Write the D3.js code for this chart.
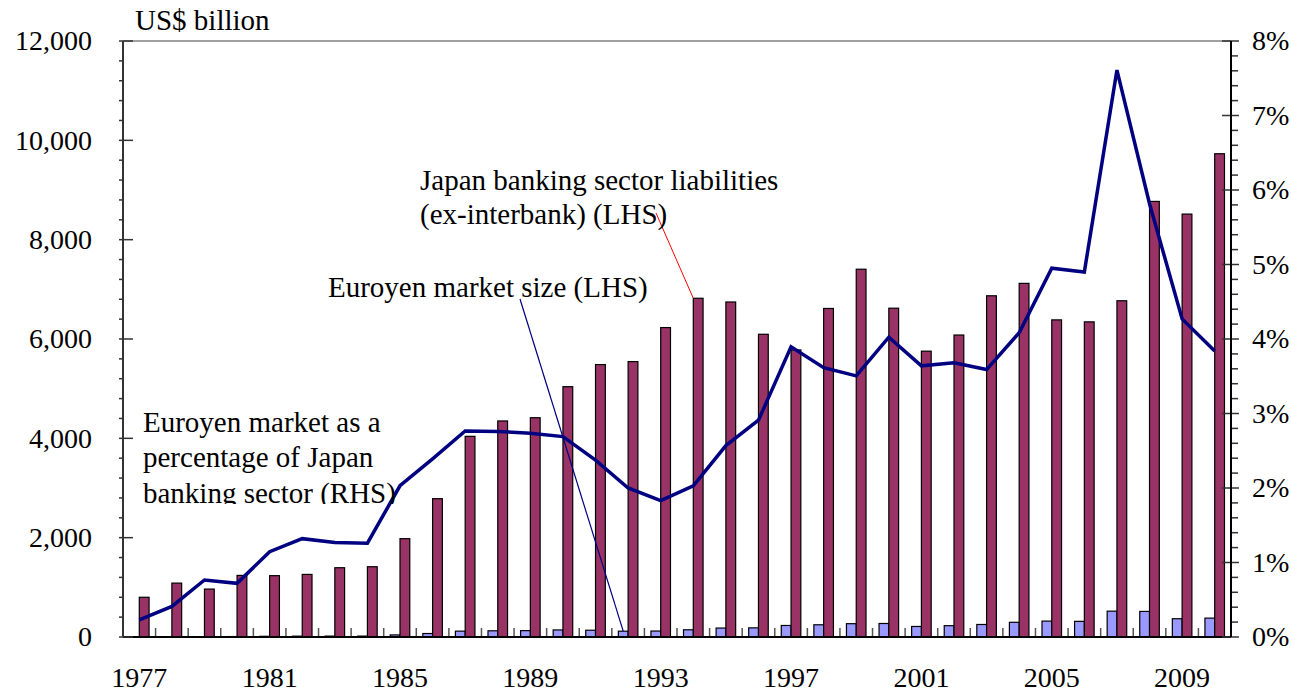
<!DOCTYPE html>
<html>
<head>
<meta charset="utf-8">
<script src="https://cdn.jsdelivr.net/npm/d3@7"></script>
<style>
  body { margin: 0; background: #fff; }
  svg { display: block; }
</style>
</head>
<body>
<svg id="chart"></svg>
<script>
// years on the x axis
let years = [1977, 1978, 1979, 1980, 1981, 1982, 1983, 1984, 1985, 1986, 1987, 1988,
  1989, 1990, 1991, 1992, 1993, 1994, 1995, 1996, 1997, 1998, 1999, 2000,
  2001, 2002, 2003, 2004, 2005, 2006, 2007, 2008, 2009, 2010];

// Japan banking sector liabilities (ex-interbank), US$ billion (LHS)
let liabilities = [800, 1085, 965, 1240, 1235, 1260, 1395, 1415, 1980, 2785, 4040, 4350,
  4415, 5040, 5485, 5545, 6230, 6820, 6745, 6095, 5780, 6615, 7405, 6620,
  5755, 6080, 6870, 7120, 6385, 6345, 6770, 8770, 8515, 9730];

// Euroyen market size, US$ billion (LHS)
let euroyen = [2, 4, 7, 9, 14, 17, 18, 18, 42, 70, 118, 125,
  128, 142, 136, 117, 120, 145, 180, 184, 232, 246, 268, 272,
  212, 228, 252, 296, 320, 315, 520, 515, 368, 380];

// Euroyen market as % of Japan banking sector (RHS)
let share = [0.23, 0.41, 0.765, 0.72, 1.145, 1.32, 1.27, 1.26, 2.03, 2.39, 2.765, 2.76,
  2.735, 2.69, 2.375, 2.0, 1.83, 2.03, 2.57, 2.91, 3.895, 3.615, 3.505, 4.025,
  3.64, 3.68, 3.59, 4.085, 4.95, 4.90, 7.61, 5.815, 4.27, 3.84];

// tick labels
let yearLabels = [1977, 1981, 1985, 1989, 1993, 1997, 2001, 2005, 2009];
let leftTicks = [0, 2000, 4000, 6000, 8000, 10000, 12000];
let rightTicks = [0, 1, 2, 3, 4, 5, 6, 7, 8];

let width = 1291, height = 693;
let plotLeft = 123, plotRight = 1231, plotTop = 41, plotBottom = 637;
let font = "Liberation Serif";

let svg = d3.select("#chart").attr("width", width).attr("height", height)
  .style("font-family", font);

let x = d3.scaleBand().domain(years).range([plotLeft, plotRight]).padding(0);
let yL = d3.scaleLinear().domain([0, 12000]).range([plotBottom, plotTop]);
let yR = d3.scaleLinear().domain([0, 8]).range([plotBottom, plotTop]);
let bw = x.bandwidth() * 0.3;
let cx = d => x(d) + x.bandwidth() / 2;

// общий стиль для подписей
let styleText = (sel, size = 28) => sel
  .style("font-family", font)
  .style("font-size", size + "px")
  .attr("fill", "#000");

// рамка сверху
svg.append("line")
  .attr("x1", plotLeft).attr("x2", plotRight).attr("y1", plotTop).attr("y2", plotTop)
  .attr("stroke", "#a0a0a0").attr("stroke-width", 2);

// bars: euroyen (left of centre), liabilities (right of centre)
svg.append("g").selectAll("rect")
  .data(years)
  .join("rect")
  .attr("x", (d) => cx(d) - bw)
  .attr("y", (d, i) => yL(euroyen[i]))
  .attr("width", bw)
  .attr("height", (d, i) => plotBottom - yL(euroyen[i]))
  .attr("fill", "#9999ff")
  .attr("stroke", "#000")
  .attr("stroke-width", 1.2);

svg.append("g").selectAll("rect")
  .data(years)
  .join("rect")
  .attr("x", (d) => cx(d))
  .attr("y", (d, i) => yL(liabilities[i]))
  .attr("width", bw)
  .attr("height", (d, i) => plotBottom - yL(liabilities[i]))
  .attr("fill", "#993366")
  .attr("stroke", "#000")
  .attr("stroke-width", 1.2);

// x axis
let xAxis = d3.axisBottom(x)
  .tickValues(yearLabels)
  .tickSize(0)
  .tickPadding(30);
let gx = svg.append("g").attr("transform", `translate(0,${plotBottom})`).call(xAxis);
gx.select(".domain").remove();
gx.attr("font-family", null).attr("font-size", null);
gx.selectAll("text").call(styleText);

// small ticks between categories
svg.append("g").selectAll("line")
  .data(years.slice(1))
  .join("line")
  .attr("x1", d => x(d)).attr("x2", d => x(d))
  .attr("y1", plotBottom - 9).attr("y2", plotBottom)
  .attr("stroke", "#555").attr("stroke-width", 1.5);

svg.append("line")
  .attr("x1", plotLeft).attr("x2", plotRight).attr("y1", plotBottom).attr("y2", plotBottom)
  .attr("stroke", "#000").attr("stroke-width", 2);

// left axis
let leftAxis = d3.axisLeft(yL)
  .tickValues(leftTicks)
  .tickFormat(d3.format(","))
  .tickSize(0)
  .tickPadding(31);
let gl = svg.append("g").attr("transform", `translate(${plotLeft},0)`).call(leftAxis);
gl.select(".domain").remove();
gl.attr("font-family", null).attr("font-size", null);
gl.selectAll("text").call(styleText);

let leftMinor = d3.range(400, 12000, 400).filter(v => v % 2000 !== 0);
svg.append("g").selectAll("line")
  .data(leftMinor)
  .join("line")
  .attr("x1", plotLeft - 4).attr("x2", plotLeft)
  .attr("y1", d => yL(d)).attr("y2", d => yL(d))
  .attr("stroke", "#333").attr("stroke-width", 1.5);
svg.append("g").selectAll("line")
  .data(leftTicks)
  .join("line")
  .attr("x1", plotLeft - 4).attr("x2", plotLeft + 10)
  .attr("y1", d => yL(d)).attr("y2", d => yL(d))
  .attr("stroke", "#333").attr("stroke-width", 1.5);
svg.append("line")
  .attr("x1", plotLeft).attr("x2", plotLeft).attr("y1", plotTop).attr("y2", plotBottom)
  .attr("stroke", "#333").attr("stroke-width", 2);

// right axis
let rightAxis = d3.axisRight(yR)
  .tickValues(rightTicks)
  .tickFormat(d => d + "%")
  .tickSize(0)
  .tickPadding(21);
let gr = svg.append("g").attr("transform", `translate(${plotRight},0)`).call(rightAxis);
gr.select(".domain").remove();
gr.attr("font-family", null).attr("font-size", null);
gr.selectAll("text").call(styleText);

let rightMinor = d3.range(0.2, 8, 0.2).filter(v => Math.abs(v - Math.round(v)) > 0.01);
svg.append("g").selectAll("line")
  .data(rightMinor)
  .join("line")
  .attr("x1", plotRight).attr("x2", plotRight + 7)
  .attr("y1", d => yR(d)).attr("y2", d => yR(d))
  .attr("stroke", "#333").attr("stroke-width", 1.5);
svg.append("g").selectAll("line")
  .data(rightTicks)
  .join("line")
  .attr("x1", plotRight - 9).attr("x2", plotRight + 8)
  .attr("y1", d => yR(d)).attr("y2", d => yR(d))
  .attr("stroke", "#333").attr("stroke-width", 1.5);
svg.append("line")
  .attr("x1", plotRight).attr("x2", plotRight).attr("y1", plotTop).attr("y2", plotBottom)
  .attr("stroke", "#000").attr("stroke-width", 2);

// share line
let line = d3.line()
  .x((d, i) => cx(years[i]))
  .y(d => yR(d));
svg.append("path")
  .datum(share)
  .attr("d", line)
  .attr("fill", "none")
  .attr("stroke", "#000080")
  .attr("stroke-width", 3.5)
  .attr("stroke-linejoin", "miter");

// unit label
svg.append("text").attr("x", 135).attr("y", 30).text("US$ billion").call(styleText, 29);

// annotations
let i1994 = years.indexOf(1994);
svg.append("line")
  .attr("x1", 656).attr("y1", 213)
  .attr("x2", cx(1994)).attr("y2", yL(liabilities[i1994]))
  .attr("stroke", "red").attr("stroke-width", 1);
svg.append("text").attr("x", 420).attr("y", 190).text("Japan banking sector liabilities").call(styleText, 29);
svg.append("text").attr("x", 420).attr("y", 224).text("(ex-interbank) (LHS)").call(styleText, 29);

let i1992 = years.indexOf(1992);
svg.append("line")
  .attr("x1", 520).attr("y1", 299)
  .attr("x2", cx(1992) - bw / 2).attr("y2", yL(euroyen[i1992]))
  .attr("stroke", "#000080").attr("stroke-width", 1.2);
svg.append("text").attr("x", 328).attr("y", 297).text("Euroyen market size (LHS)").call(styleText, 29);

// подпись обрезана снизу, как в оригинале
svg.append("clipPath").attr("id", "cut")
  .append("rect").attr("x", 130).attr("y", 390).attr("width", 300).attr("height", 114);
let note = svg.append("g").attr("clip-path", "url(#cut)");
note.append("text").attr("x", 143).attr("y", 432).text("Euroyen market as a").call(styleText, 29);
note.append("text").attr("x", 143).attr("y", 467).text("percentage of Japan").call(styleText, 29);
note.append("text").attr("x", 143).attr("y", 503).text("banking sector (RHS)").call(styleText, 29);
</script>
</body>
</html>
